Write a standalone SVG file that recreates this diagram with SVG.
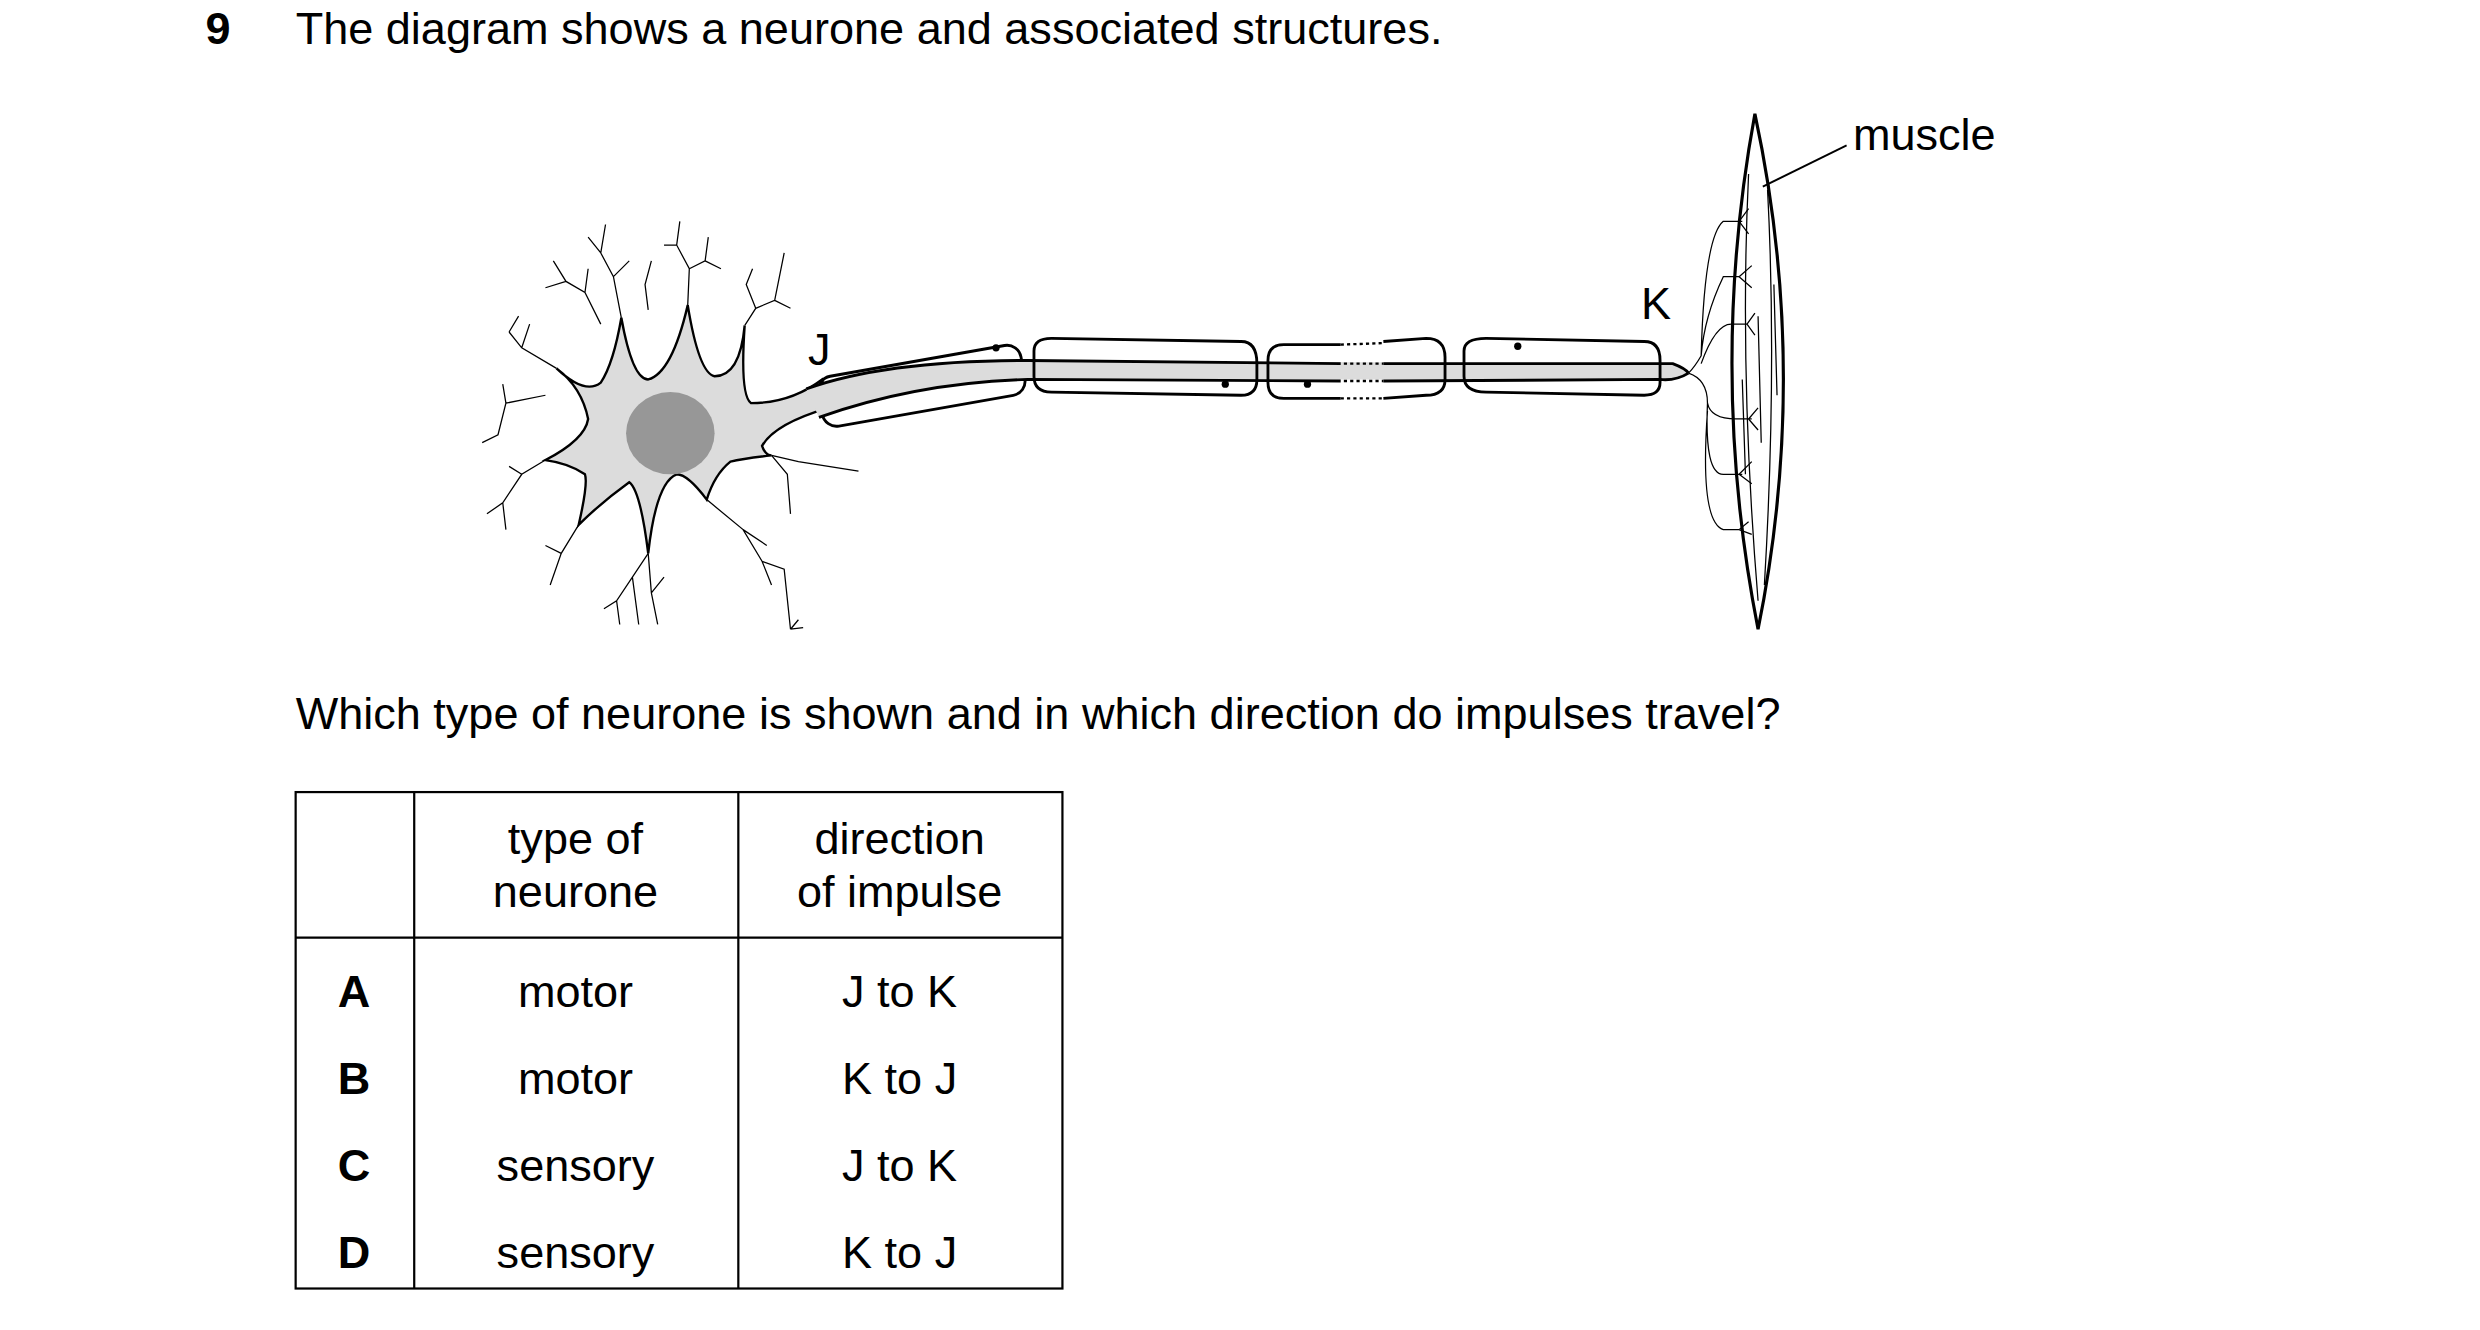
<svg xmlns="http://www.w3.org/2000/svg" width="2480" height="1330" viewBox="0 0 2480 1330">
<style>
text{font-family:"Liberation Sans",Arial,sans-serif;font-size:28.5px;fill:#000}
.c{text-anchor:middle}
.b{font-weight:bold}
.thin{fill:none;stroke:#000;stroke-width:0.8}
.thk{fill:none;stroke:#000;stroke-width:1.8}
.grid{fill:none;stroke:#000;stroke-width:1.4}
</style>
<rect width="2480" height="1330" fill="#fff"/>
<g transform="scale(1.581)">
<g id="texts">
<text x="130" y="28" class="b">9</text>
<text x="187" y="28">The diagram shows a neurone and associated structures.</text>
<text x="187" y="461">Which type of neurone is shown and in which direction do impulses travel?</text>
</g>
<g id="neurone">
<g class="thin">
<path d="M393,201 L388,175 L380,160 M388,175 L398,165 M380,160 L372,150 M380,160 L383,142"/>
<path d="M380,205 L370,185 L358,178 L350,165 M370,185 L372,170 M358,178 L345,182"/>
<path d="M435,193 L436,170 L428,155 L420,155 M436,170 L446,165 L448,150 M428,155 L430,140 M446,165 L456,170"/>
<path d="M471,206 L478,195 L490,190 L496,160 M490,190 L500,195 M478,195 L472,180 L476,170"/>
<path d="M410,196 L408,180 L412,165"/>
<path d="M352,233 L330,220 L322,210 M330,220 L335,205 M322,210 L328,200"/>
<path d="M345,250 L320,255 L315,275 L305,280 M320,255 L318,243"/>
<path d="M345,291 L330,300 L318,318 L308,325 M330,300 L322,295 M318,318 L320,335"/>
<path d="M366,332 L355,350 L348,370 M355,350 L345,345"/>
<path d="M410,350 L400,365 L390,380 L382,385 M400,365 L404,395 M390,380 L392,395"/>
<path d="M410,350 L412,375 L416,395 M412,375 L420,365"/>
<path d="M447,316 L470,335 L482,355 L488,370 M470,335 L485,345 M482,355 L496,360 L500,398 M500,398 L505,392 M500,398 L508,397"/>
<path d="M488,288 L505,292 L543,298"/>
<path d="M488,288 L498,300 L500,325"/>
</g>
<path d="M352,233 Q370,250 380,242 Q388,230 393,201 Q400,240 410,240 Q425,236 435,193 Q442,236 452,238 Q468,238 471,206 Q468,250 475,255 Q500,255 520,240 L524,258 Q490,268 482,282 Q484,288 488,288 Q470,290 462,292 Q452,300 447,316 Q435,300 428,300 Q415,305 410,350 Q405,310 398,305 Q380,318 366,332 Q372,306 370,300 Q360,293 345,291 Q370,278 372,265 Q368,245 352,233 Z" fill="#dcdcdc" stroke="#000" stroke-width="1.5"/>
<ellipse cx="424" cy="274" rx="28" ry="26" fill="#979797"/>
<rect x="518" y="228" width="130" height="32" rx="9" transform="rotate(-10 583 244)" class="thk" fill="#fff"/>
<path d="M510,246 Q560,228 650,228 L1058,230 Q1068,233 1068,236 Q1060,241 1050,240 L650,240 Q580,242 518,264 Z" fill="#dcdcdc" stroke="none"/>
<path class="thk" d="M510,246 Q560,228 650,228 L848,230 M875,230 L1058,230 Q1066,233 1068,236"/>
<path class="thk" d="M518,264 Q580,242 650,240 L848,241 M875,241 L1050,240 Q1060,241 1068,236"/>
<path class="thk" d="M654,222 Q654,214 665,214 L785,216 Q795,216 795,230 L795,240 Q795,250 785,250 L665,248 Q654,248 654,238 Z"/>
<path class="thk" d="M848,218 L812,218 Q802,218 802,228 L802,242 Q802,252 812,252 L848,252 M875,252 L902,250 Q914,250 914,240 L914,226 Q914,214 902,214 L875,216"/>
<path d="M848,218 L875,217 M848,252 L875,252 M850,230 L875,230 M850,241 L875,241" stroke="#000" stroke-width="1.5" stroke-dasharray="2,2" fill="none"/>
<path class="thk" d="M926,222 Q926,214 940,214 L1040,216 Q1050,216 1050,228 L1050,242 Q1050,250 1040,250 L940,248 Q926,248 926,238 Z"/>
<circle cx="630" cy="220" r="2.3"/><circle cx="775" cy="243" r="2.3"/><circle cx="827" cy="243" r="2.3"/><circle cx="960" cy="219" r="2.3"/>
<text x="511" y="231">J</text>
<text x="1038" y="202">K</text>
</g>
<g id="muscle">
<path d="M1110,72 Q1080,235 1112,398 Q1145,235 1110,72 Z" fill="#fff" stroke="#000" stroke-width="2"/>
<g class="thin">
<path d="M1068,236 Q1072,232 1076,225 Q1078,150 1090,140 L1102,140 M1076,225 Q1078,200 1090,175 L1100,175 M1076,230 Q1085,205 1095,205 L1105,205 M1068,236 Q1080,240 1080,255 Q1082,265 1098,265 L1108,265 M1080,255 Q1078,300 1090,300 L1102,300 M1080,260 Q1075,330 1090,335 L1100,335"/>
<path d="M1100,140 L1106,132 M1100,140 L1106,148 M1100,175 L1108,168 M1100,175 L1108,182 M1105,205 L1110,198 M1105,205 L1110,212 M1106,265 L1112,258 M1106,265 L1112,272 M1100,300 L1108,292 M1100,300 L1108,306 M1100,335 L1106,330 M1100,335 L1108,338"/>
<path d="M1106,110 Q1100,235 1112,380 M1118,120 Q1124,235 1116,370 M1112,200 L1114,280 M1122,180 L1124,250 M1102,240 L1104,300"/>
</g>
<path d="M1115,118 L1168,92" stroke="#000" stroke-width="1.2"/>
<text x="1172" y="95">muscle</text>
</g>
<g id="table">
<rect x="187" y="501" width="485" height="314" class="grid"/>
<path class="grid" d="M262,501 V815 M467,501 V815 M187,593 H672"/>
<text x="364" y="540" class="c">type of</text>
<text x="364" y="574" class="c">neurone</text>
<text x="569" y="540" class="c">direction</text>
<text x="569" y="574" class="c">of impulse</text>
<text x="224" y="637" class="c b">A</text><text x="364" y="637" class="c">motor</text><text x="569" y="637" class="c">J to K</text>
<text x="224" y="692" class="c b">B</text><text x="364" y="692" class="c">motor</text><text x="569" y="692" class="c">K to J</text>
<text x="224" y="747" class="c b">C</text><text x="364" y="747" class="c">sensory</text><text x="569" y="747" class="c">J to K</text>
<text x="224" y="802" class="c b">D</text><text x="364" y="802" class="c">sensory</text><text x="569" y="802" class="c">K to J</text>
</g>
</g>
</svg>
